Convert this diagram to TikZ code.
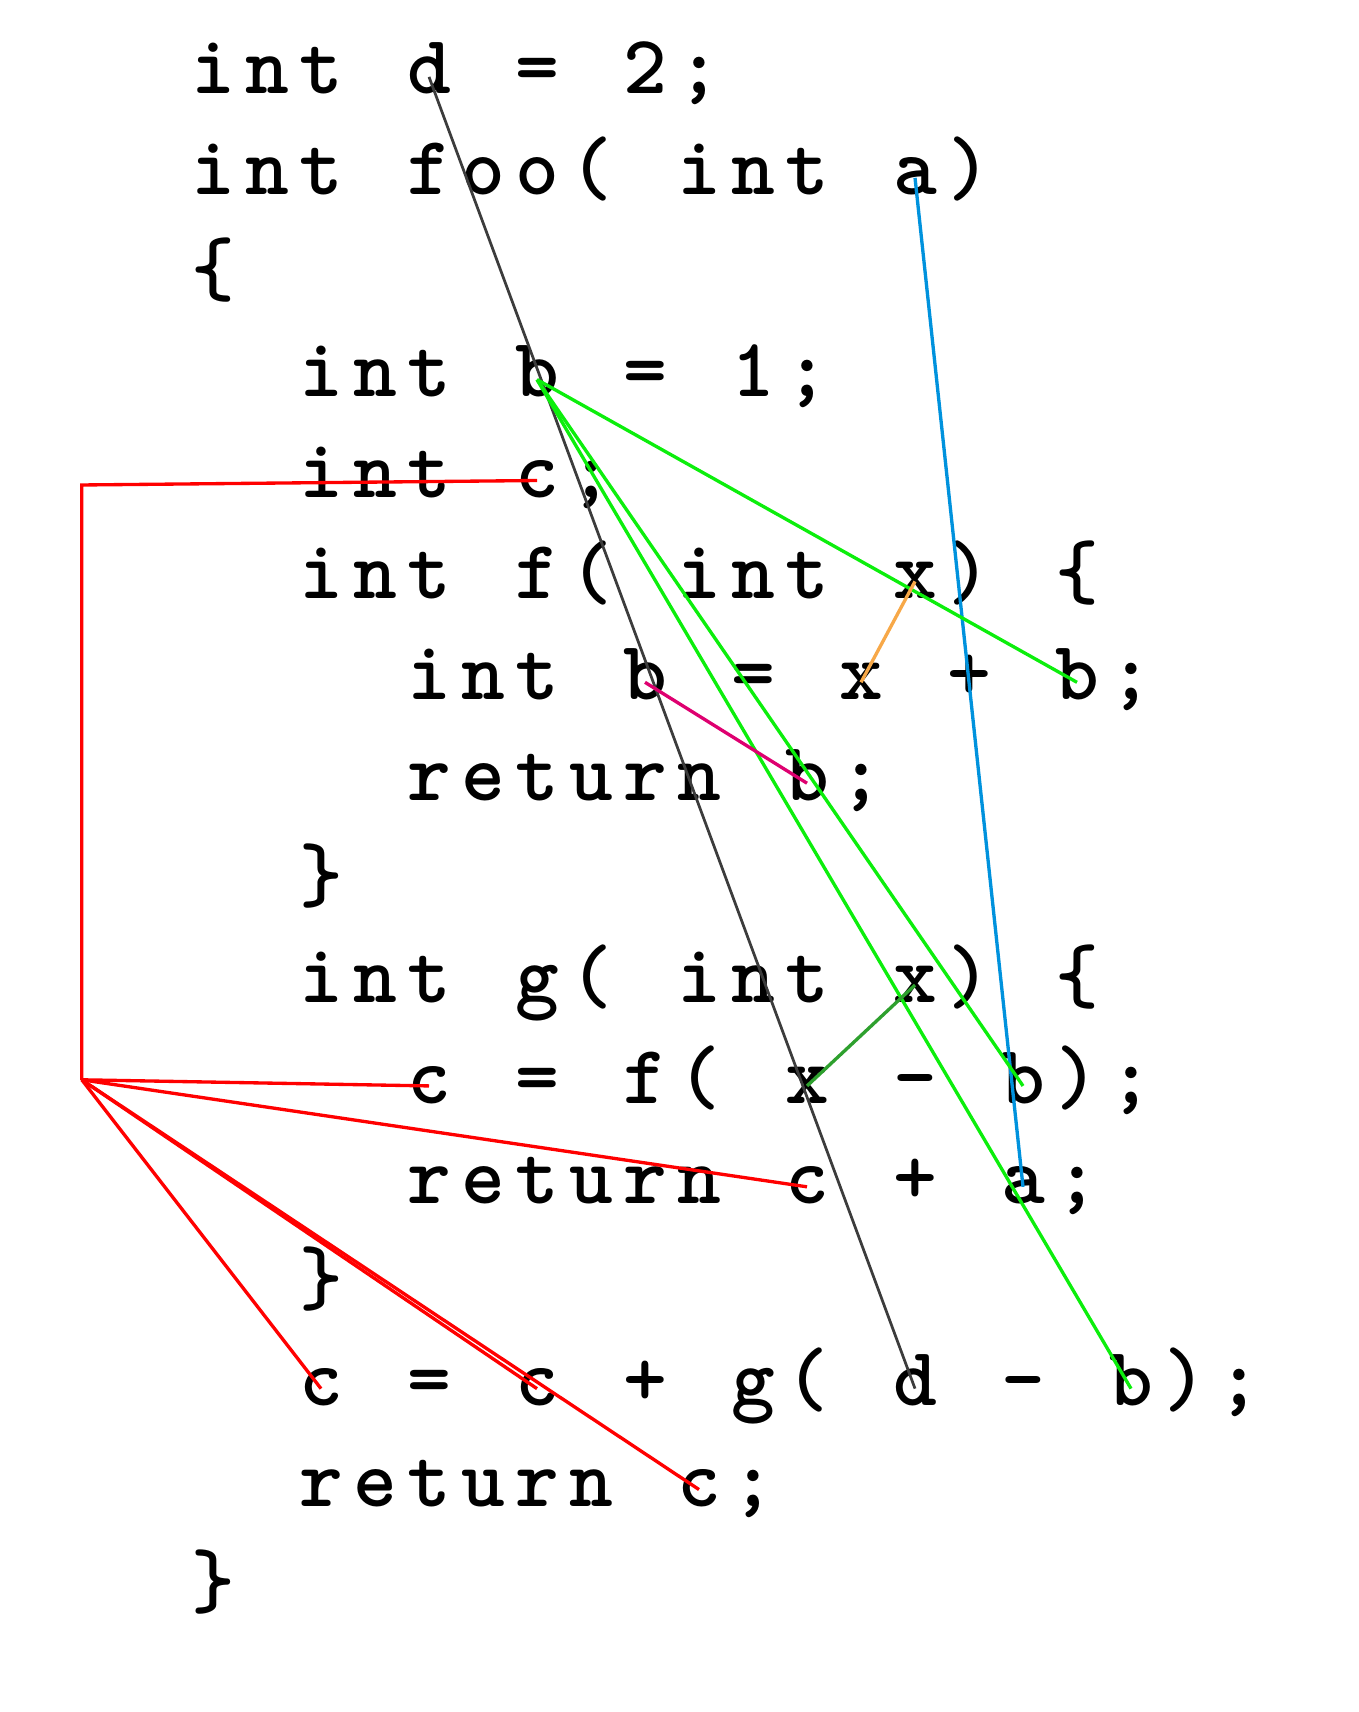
\documentclass[tikz,border=0pt]{standalone}
\usepackage{tikz}

\definecolor{dline}{RGB}{60,60,60}
\definecolor{aline}{RGB}{0,146,221}
\definecolor{bline}{RGB}{12,238,12}
\definecolor{xfline}{RGB}{247,168,72}
\definecolor{bfline}{RGB}{222,0,112}
\definecolor{xgline}{RGB}{46,160,46}
\definecolor{cline}{RGB}{255,0,0}

\tikzset{tok/.style={inner sep=0pt, anchor=base, text height=4.1pt, text depth=0pt,
    font=\fontsize{10pt}{12pt}\selectfont\ttfamily\bfseries}}

\begin{document}
\begin{tikzpicture}[x=6.48pt, y=-12.108pt, line width=0.4pt]
      \useasboundingbox (-25.56pt,11.28pt) rectangle (137.4pt,-194.16pt);
      % Draw the code, one character per node
      \foreach \col/\chr in {0/i,1/n,2/t,4/d,6/=,8/2,9/;}
        \node[tok] (l0c\col) at (\col,0) {\chr};
      \foreach \col/\chr in {0/i,1/n,2/t,4/f,5/o,6/o,7/(,9/i,10/n,11/t,13/a,14/)}
        \node[tok] (l1c\col) at (\col,1) {\chr};
      \foreach \col/\chr in {0/\{}
        \node[tok] (l2c\col) at (\col,2) {\chr};
      \foreach \col/\chr in {2/i,3/n,4/t,6/b,8/=,10/1,11/;}
        \node[tok] (l3c\col) at (\col,3) {\chr};
      \foreach \col/\chr in {2/i,3/n,4/t,6/c,7/;}
        \node[tok] (l4c\col) at (\col,4) {\chr};
      \foreach \col/\chr in {2/i,3/n,4/t,6/f,7/(,9/i,10/n,11/t,13/x,14/),16/\{}
        \node[tok] (l5c\col) at (\col,5) {\chr};
      \foreach \col/\chr in {4/i,5/n,6/t,8/b,10/=,12/x,14/+,16/b,17/;}
        \node[tok] (l6c\col) at (\col,6) {\chr};
      \foreach \col/\chr in {4/r,5/e,6/t,7/u,8/r,9/n,11/b,12/;}
        \node[tok] (l7c\col) at (\col,7) {\chr};
      \foreach \col/\chr in {2/\}}
        \node[tok] (l8c\col) at (\col,8) {\chr};
      \foreach \col/\chr in {2/i,3/n,4/t,6/g,7/(,9/i,10/n,11/t,13/x,14/),16/\{}
        \node[tok] (l9c\col) at (\col,9) {\chr};
      \foreach \col/\chr in {4/c,6/=,8/f,9/(,11/x,13/-,15/b,16/),17/;}
        \node[tok] (l10c\col) at (\col,10) {\chr};
      \foreach \col/\chr in {4/r,5/e,6/t,7/u,8/r,9/n,11/c,13/+,15/a,16/;}
        \node[tok] (l11c\col) at (\col,11) {\chr};
      \foreach \col/\chr in {2/\}}
        \node[tok] (l12c\col) at (\col,12) {\chr};
      \foreach \col/\chr in {2/c,4/=,6/c,8/+,10/g,11/(,13/d,15/-,17/b,18/),19/;}
        \node[tok] (l13c\col) at (\col,13) {\chr};
      \foreach \col/\chr in {2/r,3/e,4/t,5/u,6/r,7/n,9/c,10/;}
        \node[tok] (l14c\col) at (\col,14) {\chr};
      \foreach \col/\chr in {0/\}}
        \node[tok] (l15c\col) at (\col,15) {\chr};
      % Draw the bindings
      \draw[dline, line width=0.33pt] (l0c4.center) -- (l13c13.center);
      \draw[aline] (l1c13.center) -- (l11c15.center);
      \foreach \u in {l6c16,l10c15,l13c17}
        \draw[bline] (l3c6.center) -- (\u.center);
      \draw[xfline] (l5c13.center) -- (l6c12.center);
      \draw[bfline] (l6c8.center) -- (l7c11.center);
      \draw[xgline] (l9c13.center) -- (l10c11.center);
      % Draw the tree for c
      \coordinate (cup) at (-2.43,3.875);
      \coordinate (cfork) at (-2.43,9.77);
      \draw[cline] (l4c6.center) -- (cup) -- (cfork);
      \foreach \u in {l10c4,l11c11,l13c2,l13c6,l14c9}
        \draw[cline] (cfork) -- (\u.center);
    \end{tikzpicture}
\end{document}
